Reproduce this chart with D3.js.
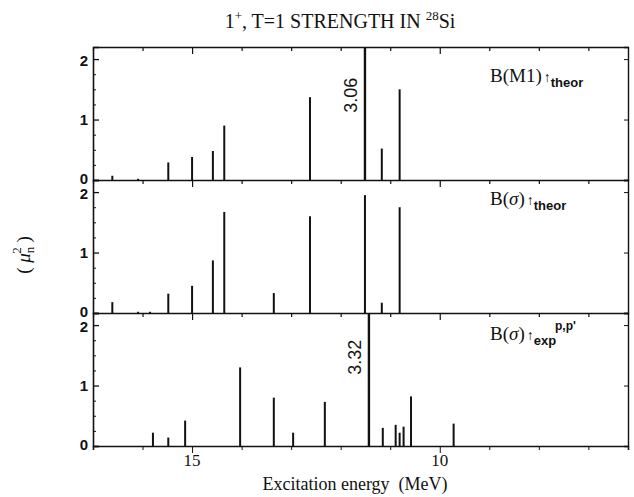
<!DOCTYPE html>
<html><head><meta charset="utf-8">
<script src="https://cdn.jsdelivr.net/npm/d3@7"></script>
<style>body{margin:0;background:#fff}svg{display:block}</style>
</head><body>
<svg id="c" width="634" height="497"></svg>
<script>
// ---- data ----
const m1Energies = [16.61, 16.09, 15.48, 15.00, 14.58, 14.35, 12.62, 11.51, 11.17, 10.81];
const m1Values   = [0.07, 0.02, 0.29, 0.38, 0.48, 0.90, 1.37, 3.06, 0.52, 1.50];
const gtEnergies = [16.61, 16.09, 15.85, 15.48, 15.00, 14.58, 14.35, 13.35, 12.62, 11.51, 11.17, 10.81];
const gtValues   = [0.18, 0.02, 0.02, 0.32, 0.45, 0.87, 1.67, 0.33, 1.60, 1.95, 0.17, 1.75];
const expEnergies = [15.79, 15.48, 15.14, 14.03, 13.35, 12.96, 12.32, 11.43, 11.15, 10.89, 10.81, 10.73, 10.58, 9.72];
const expValues   = [0.22, 0.14, 0.42, 1.30, 0.80, 0.22, 0.73, 3.32, 0.30, 0.35, 0.22, 0.32, 0.82, 0.37];
const xTickMajor = [15, 10];
const yTickMajor = [0, 1, 2];

const svg = d3.select("#c");
const L = 93, R = 628;
const x = d3.scaleLinear().domain([17, 6.2]).range([L, R]);
const panels = [
  {top: 47, bot: 180, e: m1Energies, v: m1Values, off: 10},
  {top: 180, bot: 313, e: gtEnergies, v: gtValues, off: 0},
  {top: 313, bot: 446, e: expEnergies, v: expValues, off: 6}
];
const intTicks = d3.range(17, 6, -1);
const sans = "'Liberation Sans', Arial, sans-serif";
const serif = "'Liberation Serif', 'DejaVu Serif', serif";

panels.forEach((p, i) => {
  const y = d3.scaleLinear().domain([0, 2.2]).range([p.bot, p.top]);
  const g = svg.append("g");
  // bars
  p.e.forEach((e, k) => {
    const v = p.v[k];
    g.append("line")
      .attr("x1", x(e)).attr("x2", x(e))
      .attr("y1", y(0)).attr("y2", y(Math.min(v, 2.2)))
      .attr("stroke", "#111").attr("stroke-width", v > 2.2 ? 2.4 : 2);
    if (v > 2.2) {
      const ly = (y(2.2) + y(1.0)) / 2 + 2 + p.off;
      g.append("text").attr("transform", `translate(${x(e) - 8},${ly}) rotate(-90)`)
        .attr("text-anchor", "middle").attr("font-family", sans).attr("font-size", 18)
        .attr("fill", "#111").text(v.toFixed(2));
    }
  });
  // left axis
  const la = d3.axisLeft(y).tickValues(yTickMajor).tickSize(-6).tickFormat(d3.format("d")).tickPadding(5);
  const lg = g.append("g").attr("transform", `translate(${L},0)`).call(la);
  lg.select(".domain").attr("stroke", "#111").attr("stroke-width", 1.6);
  lg.selectAll(".tick text").attr("font-family", sans).attr("font-size", 15).attr("font-weight", "bold").attr("fill", "#111")
    .attr("dy", d => d === 0 ? "0.2em" : (d === 2 ? "0.45em" : "0.32em"));
  lg.selectAll(".tick line").attr("stroke", "#111").attr("stroke-width", 1.3);
  const lm = d3.axisLeft(y).tickValues([0.25,0.5,0.75,1.25,1.5,1.75]).tickSize(-3).tickFormat("");
  const lmg = g.append("g").attr("transform", `translate(${L},0)`).call(lm);
  lmg.select(".domain").remove();
  lmg.selectAll(".tick line").attr("stroke", "#111");
  // right axis
  const ra = d3.axisRight(y).tickValues([1, 2]).tickSize(-4).tickFormat("");
  const rg = g.append("g").attr("transform", `translate(${R},0)`).call(ra);
  rg.select(".domain").attr("stroke", "#111").attr("stroke-width", 1.4);
  rg.selectAll(".tick line").attr("stroke", "#111");
  // top border with inward ticks
  const ta = d3.axisTop(x).tickValues(intTicks).tickSize(0).tickFormat("");
  const tg = g.append("g").attr("transform", `translate(0,${p.top})`).call(ta);
  tg.select(".domain").attr("stroke", "#111").attr("stroke-width", 1.6);
  tg.selectAll(".tick").append("line").attr("y2", d => xTickMajor.includes(d) ? 7 : 4).attr("stroke", "#111").attr("stroke-width", 1.2);
});

// bottom axis
const bx = d3.axisBottom(x).tickValues(intTicks).tickSize(4).tickFormat("");
const bg = svg.append("g").attr("transform", "translate(0,446)").call(bx);
bg.select(".domain").attr("stroke", "#111").attr("stroke-width", 1.6);
bg.selectAll(".tick line").attr("stroke", "#111").attr("y2", d => xTickMajor.includes(d) ? 7 : 4);
svg.append("g").selectAll("text").data(xTickMajor).join("text")
  .attr("x", d => x(d)).attr("y", 466).attr("text-anchor", "middle")
  .attr("font-family", serif).attr("font-size", 17).attr("fill", "#111").text(d => d);

// title
const t = svg.append("text").attr("x", 340).attr("y", 28).attr("text-anchor", "middle")
  .attr("font-family", serif).attr("font-size", 20).attr("fill", "#111");
t.append("tspan").text("1");
t.append("tspan").attr("dy", -8).attr("font-size", 13).text("+");
t.append("tspan").attr("dy", 8).text(", T=1 STRENGTH IN ");
t.append("tspan").attr("dy", -8).attr("font-size", 13).text("28");
t.append("tspan").attr("dy", 8).text("Si");

// x title
svg.append("text").attr("x", 355).attr("y", 490).attr("text-anchor", "middle")
  .attr("font-family", serif).attr("font-size", 18).attr("fill", "#111")
  .attr("xml:space", "preserve").text("Excitation energy  (MeV)");

// y title
const yt = svg.append("text").attr("transform", "translate(30,255) rotate(-90)")
  .attr("text-anchor", "middle").attr("font-family", serif).attr("font-size", 19).attr("fill", "#111")
  .attr("xml:space", "preserve");
yt.append("tspan").text("( ");
yt.append("tspan").attr("font-style", "italic").text("μ");
yt.append("tspan").attr("dy", 4).attr("font-size", 13).text("n");
yt.append("tspan").attr("dy", -13).attr("dx", -7).attr("font-size", 13).text("2");
yt.append("tspan").attr("dy", 9).text(" )");

// panel labels
function plabel(yy, sym, sub, sup) {
  const tx = svg.append("text").attr("x", 490).attr("y", yy).attr("font-family", serif).attr("font-size", 19).attr("fill", "#111");
  tx.append("tspan").text("B(");
  tx.append("tspan").attr("font-style", sym === "σ" ? "italic" : "normal").text(sym);
  tx.append("tspan").text(")");
  tx.append("tspan").attr("font-size", 14).attr("dx", 2).text("↑");
  tx.append("tspan").attr("dy", 5).attr("font-family", sans).attr("font-weight", "bold").attr("font-size", 13).text(sub);
  if (sup) {
    svg.append("text").attr("x", 555).attr("y", yy - 10).attr("font-family", sans)
      .attr("font-weight", "bold").attr("font-size", 12).attr("fill", "#111").text(sup);
  }
}
plabel(82, "M1", "theor");
plabel(205, "σ", "theor");
plabel(340, "σ", "exp", "p,p'");
</script>
</body></html>
